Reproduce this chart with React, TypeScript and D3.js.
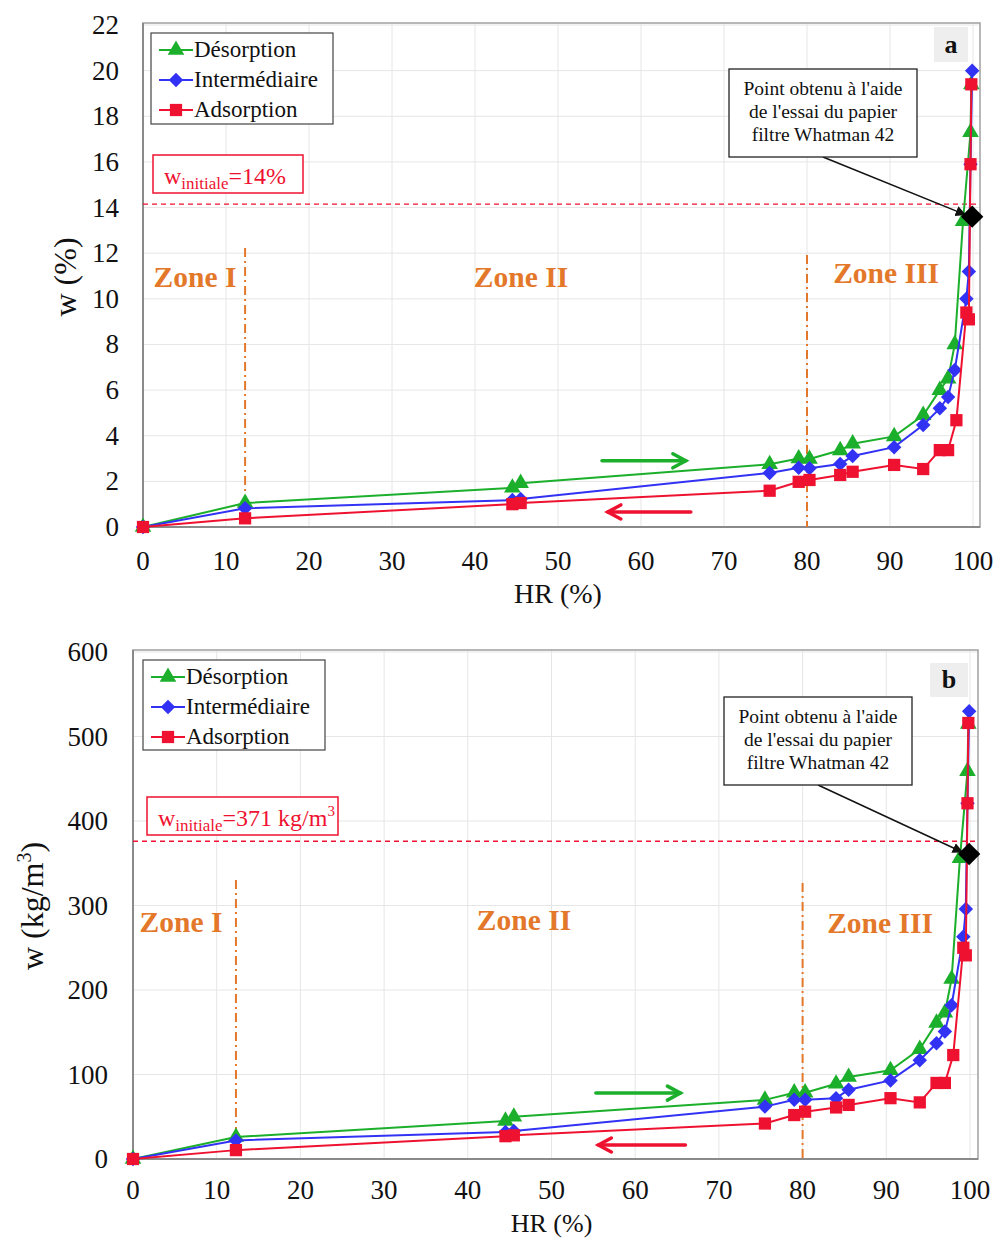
import React from "react";
import * as d3 from "d3";

// ---------- DATA ----------
const X_TICKS = [0, 10, 20, 30, 40, 50, 60, 70, 80, 90, 100];
const Y_TICKS_A = [0, 2, 4, 6, 8, 10, 12, 14, 16, 18, 20, 22];
const Y_TICKS_B = [0, 100, 200, 300, 400, 500, 600];

const HR_DES = [0, 12.3, 44.5, 45.5, 75.5, 79, 80.3, 84, 85.5, 90.5, 94, 96, 97, 97.8, 98.8, 99.7, 99.8];
const HR_INT = [0, 12.3, 44.5, 45.5, 75.5, 79, 80.3, 84, 85.5, 90.5, 94, 96, 97, 97.8, 99.2, 99.5, 99.7, 99.9];
const HR_ADS = [0, 12.3, 44.5, 45.5, 75.5, 79, 80.3, 84, 85.5, 90.5, 94, 96, 97, 98, 99.2, 99.5, 99.7, 99.8];

const W_DES_A = [0, 1.05, 1.72, 1.92, 2.75, 3.0, 2.98, 3.36, 3.65, 3.97, 4.9, 6.0, 6.5, 8.0, 13.4, 17.3, 19.4];
const W_INT_A = [0, 0.82, 1.18, 1.23, 2.37, 2.6, 2.58, 2.76, 3.11, 3.5, 4.47, 5.2, 5.7, 6.88, 10.0, 11.2, 15.9, 20.0];
const W_ADS_A = [0, 0.38, 1.0, 1.05, 1.59, 1.98, 2.06, 2.28, 2.42, 2.72, 2.54, 3.37, 3.37, 4.68, 9.4, 9.1, 15.9, 19.4];

const W_DES_B = [0, 26, 45, 50, 70, 78.5, 78.5, 89, 97, 105, 130, 161, 173, 213, 356, 459, 515];
const W_INT_B = [0, 22, 32, 33, 62, 70, 70, 72, 82, 93, 117, 137, 151, 182, 263, 296, 421, 530];
const W_ADS_B = [0, 10.5, 27, 28, 42, 52, 56, 61, 64, 72, 67, 90, 90, 123, 250, 241, 421, 516];

const FILTER_HR = 99.9;
const FILTER_W_A = 13.6;
const FILTER_W_B = 361;
const W_INIT_A = 14.15;
const W_INIT_B = 376;

const ZONE_LINES_HR = [12.3, 80];
const SERIES_NAMES = ["Désorption", "Intermédiaire", "Adsorption"];

// ---------- STYLE ----------
const GREEN = "#1BAF2B";
const BLUE = "#3232F5";
const RED = "#EE1230";
const ORANGE = "#E4782A";
const FONT = "'Liberation Serif', 'Times New Roman', serif";

type PanelCfg = {
  letter: string;
  xRange: [number, number];
  yRange: [number, number];
  yMax: number;
  yTicks: number[];
  frame: { l: number; t: number; r: number; b: number };
  wDes: number[];
  wInt: number[];
  wAds: number[];
  filterW: number;
  wInit: number;
  wInitLabel: string;
  wInitUnitSup: boolean;
  wInitBox: { x: number; y: number; w: number; h: number };
  legend: { x: number; y: number; w: number; h: number };
  annot: { x: number; y: number; w: number; h: number };
  letterBox: { x: number; y: number; w: number; h: number };
  zoneLineTop: number[];
  zoneLabels: { text: string; x: number; y: number }[];
  greenArrow: [number, number, number];
  redArrow: [number, number, number];
  yTitle: string;
  yTitleX: number;
  yTitleY: number;
  xTitleY: number;
  xTitleSize: number;
  xTickY: number;
  yTickX: number;
};

function Panel({ c }: { c: PanelCfg }) {
  const x = d3.scaleLinear().domain([0, 100]).range(c.xRange);
  const y = d3.scaleLinear().domain([0, c.yMax]).range(c.yRange);
  const line = d3
    .line<[number, number]>()
    .x((d) => x(d[0]))
    .y((d) => y(d[1]));
  const des: [number, number][] = HR_DES.map((h, i) => [h, c.wDes[i]]);
  const int: [number, number][] = HR_INT.map((h, i) => [h, c.wInt[i]]);
  const ads: [number, number][] = HR_ADS.map((h, i) => [h, c.wAds[i]]);
  const tri = d3.symbol(d3.symbolTriangle, 120)()!;
  const dia = d3.symbol(d3.symbolSquare, 105)()!;
  const sq = d3.symbol(d3.symbolSquare, 150)()!;
  const bigDia = d3.symbol(d3.symbolSquare, 250)()!;
  const f = c.frame;
  const series = [
    { data: des, color: GREEN, sym: tri, rot: 0 },
    { data: int, color: BLUE, sym: dia, rot: 45 },
    { data: ads, color: RED, sym: sq, rot: 0 },
  ];
  const lg = c.legend;
  const an = c.annot;
  const lb = c.letterBox;
  const wb = c.wInitBox;
  const ga = c.greenArrow;
  const ra = c.redArrow;
  const annotLines = ["Point obtenu à l'aide", "de l'essai du papier", "filtre Whatman 42"];
  return (
    <g fontFamily={FONT}>
      {/* grid */}
      {X_TICKS.map((t) => (
        <line key={"gx" + t} x1={x(t)} x2={x(t)} y1={f.t} y2={f.b} stroke="#e6e6e6" strokeWidth={1} />
      ))}
      {c.yTicks.map((t) => (
        <line key={"gy" + t} x1={f.l} x2={f.r} y1={y(t)} y2={y(t)} stroke="#e6e6e6" strokeWidth={1} />
      ))}
      {/* frame */}
      <rect x={f.l} y={f.t} width={f.r - f.l} height={f.b - f.t} fill="none" stroke="#a0a0a0" strokeWidth={1.5} />
      <line x1={f.l} x2={f.l} y1={f.t} y2={f.b} stroke="#8a8a8a" strokeWidth={2} />
      <line x1={f.l} x2={f.r} y1={f.b} y2={f.b} stroke="#8a8a8a" strokeWidth={2} />
      {/* tick labels */}
      {X_TICKS.map((t) => (
        <text key={"tx" + t} x={x(t)} y={c.xTickY} fontSize={27} textAnchor="middle" fill="#111">
          {t}
        </text>
      ))}
      {c.yTicks.map((t) => (
        <text key={"ty" + t} x={c.yTickX} y={y(t) + 9} fontSize={27} textAnchor="end" fill="#111">
          {t}
        </text>
      ))}
      {/* axis titles */}
      <text
        x={(c.xRange[0] + c.xRange[1]) / 2}
        y={c.xTitleY}
        fontSize={c.xTitleSize}
        textAnchor="middle"
        fill="#111"
      >
        HR (%)
      </text>
      <text
        transform={`translate(${c.yTitleX},${c.yTitleY}) rotate(-90)`}
        fontSize={32}
        textAnchor="middle"
        fill="#111"
      >
        {c.wInitUnitSup ? (
          <>
            w (kg/m<tspan fontSize={20} dy={-12}>3</tspan>
            <tspan dy={12}>)</tspan>
          </>
        ) : (
          c.yTitle
        )}
      </text>
      {/* zone lines */}
      {ZONE_LINES_HR.map((h, i) => (
        <line
          key={"z" + h}
          x1={x(h)}
          x2={x(h)}
          y1={c.zoneLineTop[i]}
          y2={f.b}
          stroke={ORANGE}
          strokeWidth={2}
          strokeDasharray="9 4 2 4"
        />
      ))}
      {c.zoneLabels.map((z) => (
        <text key={z.text} x={z.x} y={z.y} fontSize={29.5} fontWeight="bold" fill={ORANGE} textAnchor="middle">
          {z.text}
        </text>
      ))}
      {/* w initiale dashed */}
      <line x1={f.l} x2={f.r} y1={y(c.wInit)} y2={y(c.wInit)} stroke={RED} strokeWidth={1.4} strokeDasharray="5 4" />
      <rect x={wb.x} y={wb.y} width={wb.w} height={wb.h} fill="white" stroke={RED} strokeWidth={1.5} />
      <text x={wb.x + 11} y={wb.y + 29} fontSize={24} fill={RED}>
        w<tspan fontSize={17} dy={5}>initiale</tspan>
        <tspan dy={-5}>{c.wInitLabel}</tspan>
        {c.wInitUnitSup && (
          <tspan fontSize={15} dy={-10}>
            3
          </tspan>
        )}
      </text>
      {/* arrows */}
      <g stroke={GREEN} strokeWidth={3.5} fill="none" strokeLinecap="round">
        <line x1={x(ga[0])} x2={x(ga[1])} y1={y(ga[2])} y2={y(ga[2])} />
        <polyline
          points={`${x(ga[1]) - 13},${y(ga[2]) - 7} ${x(ga[1])},${y(ga[2])} ${x(ga[1]) - 13},${y(ga[2]) + 7}`}
        />
      </g>
      <g stroke={RED} strokeWidth={3.5} fill="none" strokeLinecap="round">
        <line x1={x(ra[0])} x2={x(ra[1])} y1={y(ra[2])} y2={y(ra[2])} />
        <polyline
          points={`${x(ra[1]) + 13},${y(ra[2]) - 7} ${x(ra[1])},${y(ra[2])} ${x(ra[1]) + 13},${y(ra[2]) + 7}`}
        />
      </g>
      {/* series */}
      {series.map((s, i) => (
        <g key={"s" + i}>
          <path d={line(s.data)!} fill="none" stroke={s.color} strokeWidth={2} />
          {s.data.map((d, j) => (
            <path
              key={j}
              d={s.sym}
              transform={`translate(${x(d[0])},${y(d[1])}) rotate(${s.rot})`}
              fill={s.color}
            />
          ))}
        </g>
      ))}
      {/* annotation */}
      <line
        x1={an.x + an.w / 2}
        y1={an.y + an.h}
        x2={x(FILTER_HR) - 7}
        y2={y(c.filterW) - 2}
        stroke="#111"
        strokeWidth={1.5}
        markerEnd="url(#arrowBlack)"
      />
      <path d={bigDia} transform={`translate(${x(FILTER_HR)},${y(c.filterW)}) rotate(45)`} fill="#000" />
      <rect x={an.x} y={an.y} width={an.w} height={an.h} fill="white" stroke="#222" strokeWidth={1.3} />
      {annotLines.map((t, i) => (
        <text key={t} x={an.x + an.w / 2} y={an.y + 26 + i * 23} fontSize={19.5} textAnchor="middle" fill="#111">
          {t}
        </text>
      ))}
      {/* letter */}
      <rect x={lb.x} y={lb.y} width={lb.w} height={lb.h} fill="#eeeeee" />
      <text x={lb.x + lb.w / 2} y={lb.y + lb.h / 2 + 8} fontSize={26} fontWeight="bold" textAnchor="middle" fill="#111">
        {c.letter}
      </text>
      {/* legend */}
      <rect x={lg.x} y={lg.y} width={lg.w} height={lg.h} fill="white" stroke="#444" strokeWidth={1.2} />
      {SERIES_NAMES.map((n, i) => {
        const cy = lg.y + 17 + i * 30;
        const s = series[i];
        return (
          <g key={n}>
            <line x1={lg.x + 8} x2={lg.x + 42} y1={cy} y2={cy} stroke={s.color} strokeWidth={2} />
            <path d={s.sym} transform={`translate(${lg.x + 25},${cy}) rotate(${s.rot})`} fill={s.color} />
            <text x={lg.x + 43} y={cy + 7} fontSize={23} fill="#111">
              {n}
            </text>
          </g>
        );
      })}
    </g>
  );
}

const PANEL_A: PanelCfg = {
  letter: "a",
  xRange: [143, 973],
  yRange: [527, 25],
  yMax: 22,
  yTicks: Y_TICKS_A,
  frame: { l: 143, t: 23, r: 980, b: 527 },
  wDes: W_DES_A,
  wInt: W_INT_A,
  wAds: W_ADS_A,
  filterW: FILTER_W_A,
  wInit: W_INIT_A,
  wInitLabel: "=14%",
  wInitUnitSup: false,
  wInitBox: { x: 153, y: 155, w: 150, h: 38 },
  legend: { x: 151, y: 33, w: 182, h: 91 },
  annot: { x: 729, y: 69, w: 188, h: 88 },
  letterBox: { x: 934, y: 27, w: 34, h: 35 },
  zoneLineTop: [248, 255],
  zoneLabels: [
    { text: "Zone I", x: 195, y: 287 },
    { text: "Zone II", x: 521, y: 287 },
    { text: "Zone III", x: 886, y: 283 },
  ],
  greenArrow: [55.3, 65.4, 2.9],
  redArrow: [66.0, 56.0, 0.66],
  yTitle: "w (%)",
  yTitleX: 76,
  yTitleY: 277,
  xTitleY: 603,
  xTitleSize: 28,
  xTickY: 570,
  yTickX: 119,
};

const PANEL_B: PanelCfg = {
  letter: "b",
  xRange: [133, 970],
  yRange: [1159, 652],
  yMax: 600,
  yTicks: Y_TICKS_B,
  frame: { l: 133, t: 650, r: 978, b: 1159 },
  wDes: W_DES_B,
  wInt: W_INT_B,
  wAds: W_ADS_B,
  filterW: FILTER_W_B,
  wInit: W_INIT_B,
  wInitLabel: "=371 kg/m",
  wInitUnitSup: true,
  wInitBox: { x: 147, y: 797, w: 191, h: 38 },
  legend: { x: 143, y: 660, w: 182, h: 90 },
  annot: { x: 724, y: 697, w: 188, h: 88 },
  letterBox: { x: 930, y: 663, w: 38, h: 34 },
  zoneLineTop: [880, 883],
  zoneLabels: [
    { text: "Zone I", x: 181, y: 932 },
    { text: "Zone II", x: 524, y: 930 },
    { text: "Zone III", x: 880, y: 933 },
  ],
  greenArrow: [55.3, 65.4, 78],
  redArrow: [66.0, 55.6, 16.6],
  yTitle: "w (kg/m3)",
  yTitleX: 43,
  yTitleY: 906,
  xTitleY: 1232,
  xTitleSize: 26,
  xTickY: 1199,
  yTickX: 108,
};

export default function App() {
  return (
    <svg
      width={995}
      height={1238}
      style={{ position: "absolute", left: 0, top: 0, background: "white" }}
    >
      <defs>
        <marker id="arrowBlack" viewBox="0 0 10 10" refX="9" refY="5" markerWidth="7" markerHeight="7" orient="auto">
          <path d="M0,0 L10,5 L0,10 z" fill="#111" />
        </marker>
      </defs>
      <rect width={995} height={1238} fill="white" />
      <Panel c={PANEL_A} />
      <Panel c={PANEL_B} />
    </svg>
  );
}
